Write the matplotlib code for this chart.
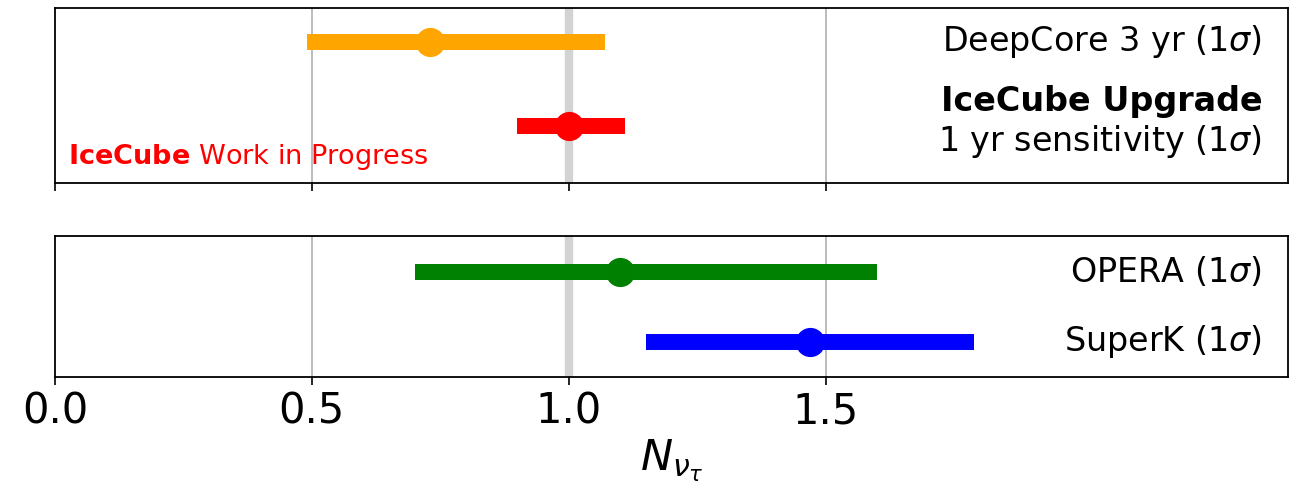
import matplotlib

matplotlib.use('Agg')
import matplotlib.pyplot as plt

# measurements: (central value, low, high)
top_names = ['DeepCore', 'Upgrade']
top_center = [0.73, 1.00]
top_low = [0.49, 0.90]
top_high = [1.07, 1.11]
top_colors = ['orange', 'red']

bot_names = ['OPERA', 'SuperK']
bot_center = [1.10, 1.47]
bot_low = [0.70, 1.15]
bot_high = [1.60, 1.79]
bot_colors = ['green', 'blue']

xticks = [0.0, 0.5, 1.0, 1.5]

fig = plt.figure(figsize=(13.06, 4.93), dpi=100)
ax1 = fig.add_axes((0.0421, 0.629, 0.944, 0.355))
ax2 = fig.add_axes((0.0421, 0.2353, 0.944, 0.286))


def draw_points(ax, centers, lows, highs, colors):
    n = len(centers)
    for i in range(n):
        y = n - 1 - i
        ax.plot([lows[i], highs[i]], [y, y], color=colors[i], lw=11.5, solid_capstyle='butt', zorder=3)
        ax.plot(centers[i], y, 'o', color=colors[i], ms=20, zorder=4)


for ax in (ax1, ax2):
    ax.set_xlim(0, 2.4)
    ax.set_xticks(xticks)
    ax.set_yticks([])
    for x in (0.5, 1.5):
        ax.axvline(x, color='#b0b0b0', lw=1.2, zorder=1)
    ax.axvline(1.0, color='lightgrey', lw=6, zorder=2)
    ax.tick_params(axis='x', length=6, width=1.2, labelsize=30)
    for s in ax.spines.values():
        s.set_linewidth(1.3)

draw_points(ax1, top_center, top_low, top_high, top_colors)
draw_points(ax2, bot_center, bot_low, bot_high, bot_colors)

ax1.set_ylim(-0.68, 1.40)
ax2.set_ylim(-0.5, 1.51)
ax1.tick_params(axis='x', labelbottom=False)

fs = 24
ax1.text(2.35, 1.0, r'DeepCore 3 yr (1$\sigma$)', ha='right', va='center', fontsize=fs)
ax1.text(2.35, 0.29, 'IceCube Upgrade', ha='right', va='center', fontsize=fs, fontweight='bold')
ax1.text(2.35, -0.19, r'1 yr sensitivity (1$\sigma$)', ha='right', va='center', fontsize=fs)
ax1.text(0.025, -0.37, r'$\mathbf{IceCube}$ Work in Progress', color='red', fontsize=19.5, va='center')

ax2.text(2.35, 1.0, r'OPERA (1$\sigma$)', ha='right', va='center', fontsize=fs)
ax2.text(2.35, 0.0, r'SuperK (1$\sigma$)', ha='right', va='center', fontsize=fs)
ax2.set_xlabel(r'$N_{\nu_\tau}$', fontsize=31)

plt.savefig('out.png', dpi=100)
